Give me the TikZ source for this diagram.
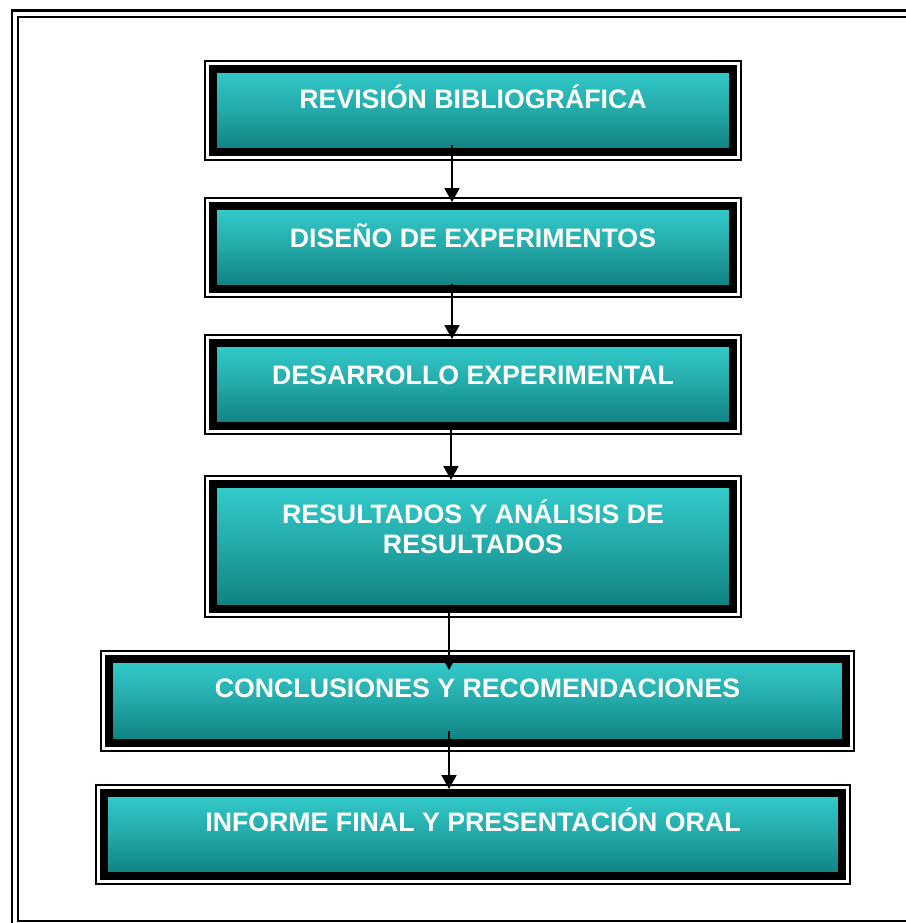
\documentclass[tikz,border=0pt]{standalone}
\usepackage{fontspec}
\setmainfont{Liberation Sans}
\usetikzlibrary{arrows.meta,positioning,fit}

\definecolor{tealtop}{RGB}{51,204,204}
\definecolor{tealmid}{RGB}{36,168,168}
\definecolor{tealbot}{RGB}{14,128,128}

\begin{document}
\begin{tikzpicture}[
  x=0.2mm, y=-0.2mm,
  stage/.style={rectangle, draw=black, line width=1.6mm, inner sep=0pt,
                top color=tealtop, bottom color=tealbot, middle color=tealmid},
  rim/.style={rectangle, draw=black, line width=0.26mm, inner sep=0.8mm},
  stagetxt/.style={font=\bfseries\fontsize{15.2pt}{17.6pt}\selectfont,
                   text=white, align=center, inner sep=0pt, text height=10.9pt,
                   anchor=north},
  flow/.style={-{Triangle[length=2.8mm, width=3mm]}, line width=0.4mm},
]
\useasboundingbox (0,0) rectangle (906,923);
\clip (0,0) rectangle (906,923);

% page frame (double rule)
\draw[line width=0.5mm] (12,10.5) rectangle (916,930);
\draw[line width=0.4mm] (17.5,16.5) rectangle (911,921);

% stages
\node[stage, minimum width=104mm, minimum height=16.6mm] (rev) at (473,110.5) {};
\node[stage, minimum width=104mm, minimum height=16.6mm] (dis) at (473,247.5) {};
\node[stage, minimum width=104mm, minimum height=16.6mm] (des) at (473,384.5) {};
\node[stage, minimum width=104mm, minimum height=25mm] (res) at (473,546.5) {};
\node[stage, minimum width=147.4mm, minimum height=16.8mm] (con) at (477.5,701) {};
\node[stage, minimum width=147.6mm, minimum height=16.6mm] (inf) at (473,834.5) {};

\foreach \s in {rev,dis,des,res,con,inf}
  \node[rim, fit=(\s)] (\s rim) {};

\node[stagetxt, below=4.8mm of rev.north] (revtxt) {REVISIÓN BIBLIOGRÁFICA};
\node[stagetxt, below=5.1mm of dis.north] (distxt) {DISEÑO DE EXPERIMENTOS};
\node[stagetxt, below=5.1mm of des.north] (destxt) {DESARROLLO EXPERIMENTAL};
\node[stagetxt, text height=28.5pt, below=4.7mm of res.north] (restxt)
  {RESULTADOS Y ANÁLISIS DE\\RESULTADOS};
\node[stagetxt, below=4.6mm of con.north] (contxt)
  {CONCLUSIONES Y RECOMENDACIONES};
\node[stagetxt, below=4.6mm of inf.north] (inftxt)
  {INFORME FINAL Y PRESENTACIÓN ORAL};

% arrows
\coordinate (a1) at (452,145);
\coordinate (a2) at (452,284);
\coordinate (a3) at (451,428);
\coordinate (a4) at (449,613);
\coordinate (a4end) at (449,670);
\coordinate (a5) at (449,731);
\draw[flow] (a1) -- (a1 |- dis.north);
\draw[flow] (a2) -- (a2 |- des.north);
\draw[flow] (a3) -- (a3 |- res.north);
\draw[flow] (a4) -- (a4end);
\draw[flow] (a5) -- (a5 |- inf.north);
\end{tikzpicture}
\end{document}
